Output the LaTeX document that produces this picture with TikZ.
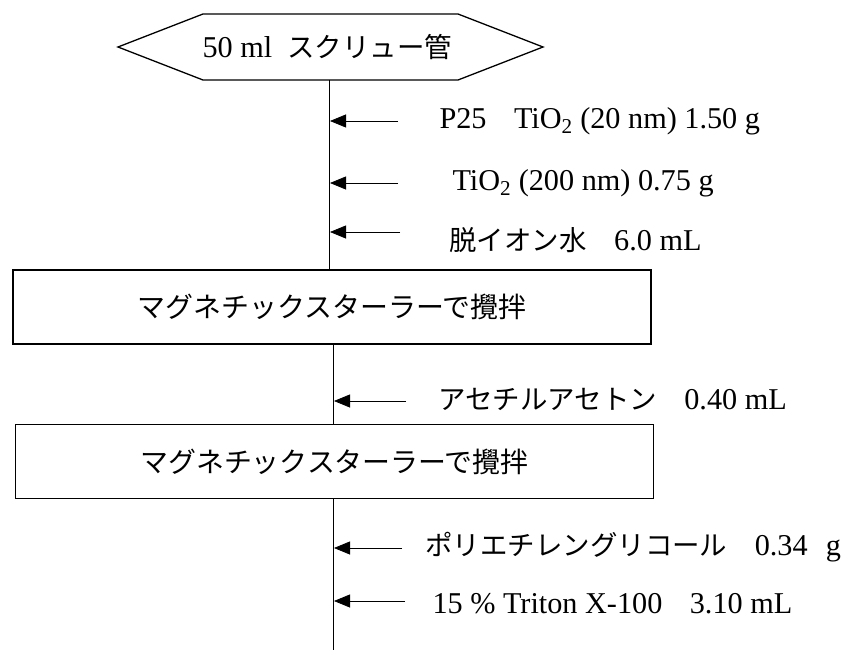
\documentclass[tikz,border=0pt]{standalone}
\usepackage{fontspec}
\setmainfont{Liberation Serif}[Scale=1.08]
\newfontfamily\jp{Noto Sans CJK JP}[Scale=0.98]
\usetikzlibrary{arrows.meta}
\newcommand\zsp{{\jp\char"3000}}
\begin{document}
\begin{tikzpicture}[x=1pt,y=-1pt,line width=1pt,
  txt/.style={inner sep=0pt,font=\fontsize{28}{32}\selectfont},
  lbl/.style={txt,anchor=west},
  boxnode/.style={draw,line width=1.1pt,minimum width=638pt,minimum height=74pt,inner sep=0pt,font=\fontsize{28.5}{32}\selectfont\jp},
  feed/.style={line width=0.8pt,-{Triangle[length=16pt,width=13pt]}}]
\useasboundingbox (0,0) rectangle (851,650);
% start hexagon
\draw[line width=1.3pt] (118,47) -- (203,14) -- (458,14) -- (543,47) -- (458,80) -- (203,80) -- cycle;
\node[txt,anchor=west] (start) at (202,47) {50 ml\hspace{0.5em}{\jp スクリュー管}};
\coordinate (hexbot) at (329,80);
% boxes
\node[boxnode] (box1) at (332,307) {マグネチックスターラーで攪拌};
\node[boxnode] (box2) at (334.5,461.5) {マグネチックスターラーで攪拌};
\coordinate (end) at (333,650);
% trunk
\draw (hexbot) -- (hexbot |- box1.north);
\draw ([xshift=1pt]box1.south) -- ([xshift=-1.5pt]box2.north);
\draw ([xshift=-1.5pt]box2.south) -- (end);
% feed arrows
\coordinate (a1) at (398,121); \coordinate (p1) at (330,121);
\coordinate (a2) at (398,183); \coordinate (p2) at (330,183);
\coordinate (a3) at (400,232); \coordinate (p3) at (330,232);
\coordinate (a4) at (406,401); \coordinate (p4) at (334,401);
\coordinate (a5) at (402,548); \coordinate (p5) at (334,548);
\coordinate (a6) at (405,601); \coordinate (p6) at (334,601);
\foreach \i in {1,...,6} {\draw[feed] (a\i) -- (p\i);}
% labels
\node[lbl] (l1) at (439,121) {P25\zsp TiO\textsubscript{2} (20 nm) 1.50 g};
\node[lbl] (l2) at (452,183) {TiO\textsubscript{2} (200 nm) 0.75 g};
\node[lbl] (l3) at (449,240) {{\jp 脱イオン水}\zsp 6.0 mL};
\node[lbl] (l4) at (438,399) {{\jp アセチルアセトン}\zsp 0.40 mL};
\node[lbl] (l5) at (425,547) {{\jp ポリエチレングリコール}\zsp 0.34\hspace{0.6em}g};
\node[lbl] (l6) at (432,604) {15 \% Triton X-100\zsp 3.10 mL};
\end{tikzpicture}
\end{document}
